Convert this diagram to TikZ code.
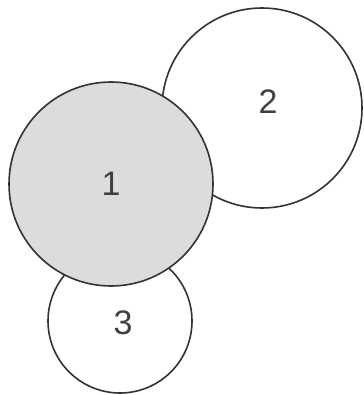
\documentclass[tikz,border=0pt]{standalone}
\usepackage{fontspec}
\setmainfont{Liberation Sans}
\usetikzlibrary{shapes.geometric}

\definecolor{ringgray}{HTML}{333333}
\definecolor{fillgray}{HTML}{DCDCDC}
\definecolor{textgray}{HTML}{404040}

\tikzset{
    ball/.style={circle, draw=ringgray, line width=1.6pt, inner sep=0pt,
        text=textgray, font=\fontsize{34}{40}\selectfont},
}

\begin{document}
\begin{tikzpicture}[x=1pt, y=-1pt]
    % Define dimensions
    \def\rone{102}
    \def\rtwo{100}
    \def\rthree{72}
    \useasboundingbox (0,0) rectangle (363,395);
    % Back circles
    \node[ball, fill=white, minimum size=2*\rtwo] (c2) at (262,108) {};
    \node[ball, fill=white, minimum size=2*\rthree] (c3) at (120,321) {};
    % Front circle
    \node[ball, fill=fillgray, minimum size=2*\rone] (c1) at (111,184) {1};
    % Labels of back circles
    \node[text=textgray, font=\fontsize{34}{40}\selectfont] (l2) at (268,102) {2};
    \node[text=textgray, font=\fontsize{34}{40}\selectfont] (l3) at (123,323) {3};
\end{tikzpicture}
\end{document}
